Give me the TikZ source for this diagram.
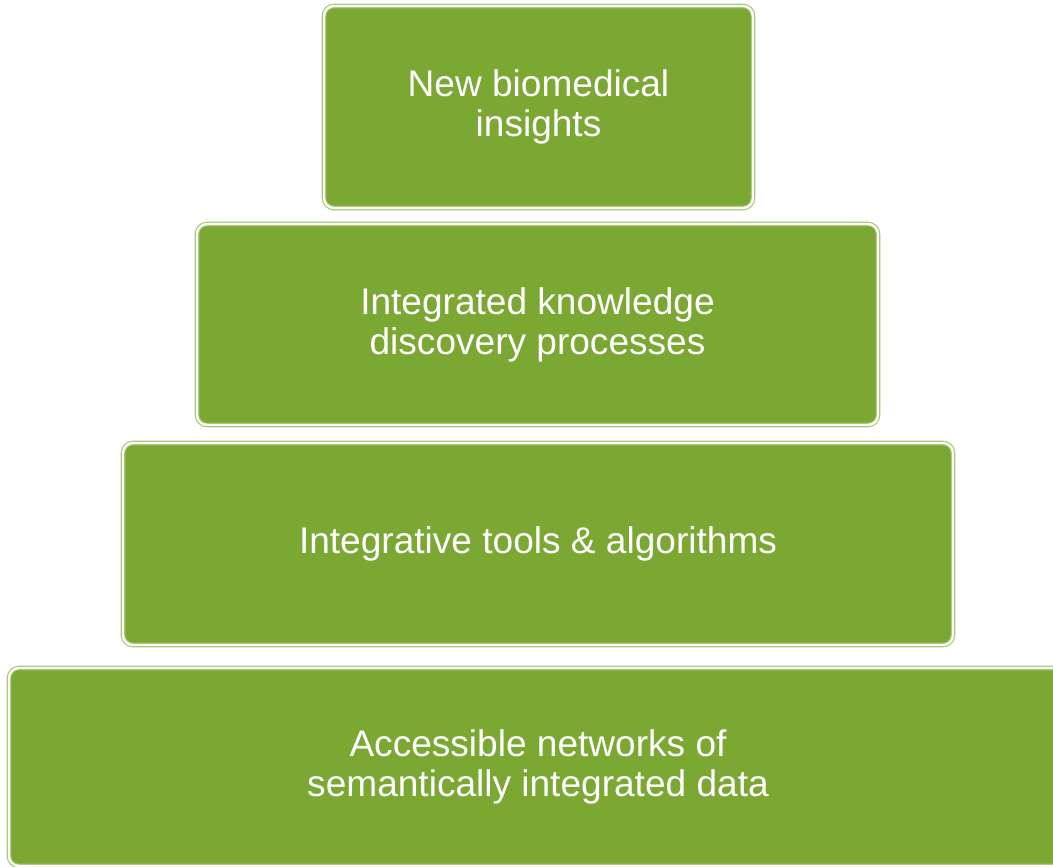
\documentclass[tikz,border=0pt]{standalone}
\usepackage{fontspec}
\setmainfont{Liberation Sans}
\definecolor{tiergreen}{RGB}{123,167,51}
\definecolor{tierrim}{RGB}{160,196,108}

\begin{document}
\begin{tikzpicture}[
    x=0.75pt, y=-0.75pt,
    tier/.style={
      rectangle, rounded corners=7.5pt, align=center,
      fill=tiergreen, draw=tierrim, line width=0.8pt,
      double=white, double distance=1.8pt,
      text=white, font=\fontsize{27.8}{30}\selectfont
    },
  ]
  \useasboundingbox (0,0) rectangle (1053,867);

  % Pyramid, top to bottom
  \node[tier, minimum width=321.75pt, minimum height=151.5pt] (insights)  at (538.5,107)
    {New biomedical\\insights};
  \node[tier, minimum width=510.75pt, minimum height=150.75pt] (discovery) at (537.5,324.5)
    {Integrated knowledge\\discovery processes};
  \node[tier, minimum width=622.5pt, minimum height=151.5pt] (tools)     at (538,544)
    {Integrative tools \& algorithms};

  % Base (runs past the right edge)
  \node[tier, minimum width=793.5pt, minimum height=148.5pt] (data)      at (538,767)
    {Accessible networks of\\semantically integrated data};

\end{tikzpicture}
\end{document}
